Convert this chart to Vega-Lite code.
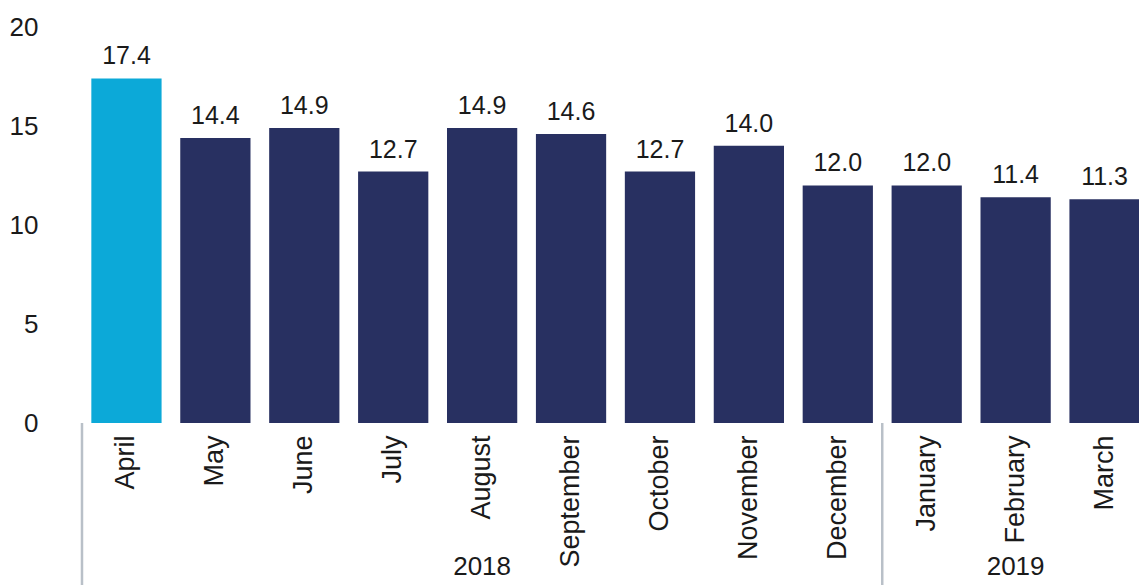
{
  "$schema": "https://vega.github.io/schema/vega-lite/v6.json",
  "autosize": "none",
  "width": 1067,
  "height": 396,
  "padding": {"left": 82, "top": 27, "right": 0, "bottom": 162},
  "background": "white",
  "config": {
    "view": {"stroke": null},
    "font": "Liberation Sans",
    "text": {"font": "Liberation Sans"}
  },
  "datasets": {
    "bars": [
      {"month": "April", "year": "2018", "value": 17.4},
      {"month": "May", "year": "2018", "value": 14.4},
      {"month": "June", "year": "2018", "value": 14.9},
      {"month": "July", "year": "2018", "value": 12.7},
      {"month": "August", "year": "2018", "value": 14.9},
      {"month": "September", "year": "2018", "value": 14.6},
      {"month": "October", "year": "2018", "value": 12.7},
      {"month": "November", "year": "2018", "value": 14.0},
      {"month": "December", "year": "2018", "value": 12.0},
      {"month": "January", "year": "2019", "value": 12.0},
      {"month": "February", "year": "2019", "value": 11.4},
      {"month": "March", "year": "2019", "value": 11.3}
    ],
    "years": [
      {"month": "August", "year": "2018"},
      {"month": "February", "year": "2019"}
    ],
    "separators": [
      {"month": "April"},
      {"month": "January"}
    ]
  },
  "layer": [
    {
      "data": {"name": "bars"},
      "mark": {"type": "bar"},
      "encoding": {
        "x": {
          "field": "month", "type": "nominal", "sort": null,
          "scale": {"paddingInner": 0.21, "paddingOuter": 0.105},
          "axis": {
            "title": null, "domain": false, "ticks": false,
            "labelAngle": -90, "labelAlign": "right", "labelBaseline": "middle",
            "labelPadding": 12, "labelFontSize": 27, "labelColor": "#1a1a1a",
            "labelFont": "Liberation Sans", "labelFontWeight": 400
          }
        },
        "y": {
          "field": "value", "type": "quantitative",
          "scale": {"domain": [0, 20], "nice": false},
          "axis": {
            "title": null, "domain": false, "ticks": false, "grid": false,
            "values": [0, 5, 10, 15, 20],
            "labelPadding": 44, "labelFontSize": 26, "labelColor": "#1a1a1a",
            "labelFont": "Liberation Sans", "labelFontWeight": 400
          }
        },
        "color": {
          "condition": {"test": "datum.month === 'April'", "value": "#0ca9d8"},
          "value": "#283061"
        }
      }
    },
    {
      "data": {"name": "bars"},
      "mark": {"type": "text", "baseline": "alphabetic", "align": "center", "dy": -14, "fontSize": 25, "fontWeight": 400, "color": "#1a1a1a", "font": "Liberation Sans"},
      "encoding": {
        "x": {"field": "month", "type": "nominal", "sort": null},
        "y": {"field": "value", "type": "quantitative"},
        "text": {"field": "value", "type": "quantitative", "format": ".1f"}
      }
    },
    {
      "data": {"name": "separators"},
      "mark": {"type": "rule", "color": "#b9c0c8", "strokeWidth": 2.5, "clip": false},
      "encoding": {
        "x": {"field": "month", "type": "nominal", "sort": null, "bandPosition": -0.133},
        "y": {"datum": 0},
        "y2": {"datum": -8.3}
      }
    },
    {
      "data": {"name": "years"},
      "mark": {"type": "text", "baseline": "alphabetic", "align": "center", "dy": 152, "fontSize": 26, "fontWeight": 400, "color": "#1a1a1a", "font": "Liberation Sans"},
      "encoding": {
        "x": {"field": "month", "type": "nominal", "sort": null},
        "y": {"datum": 0},
        "text": {"field": "year", "type": "nominal"}
      }
    }
  ]
}
